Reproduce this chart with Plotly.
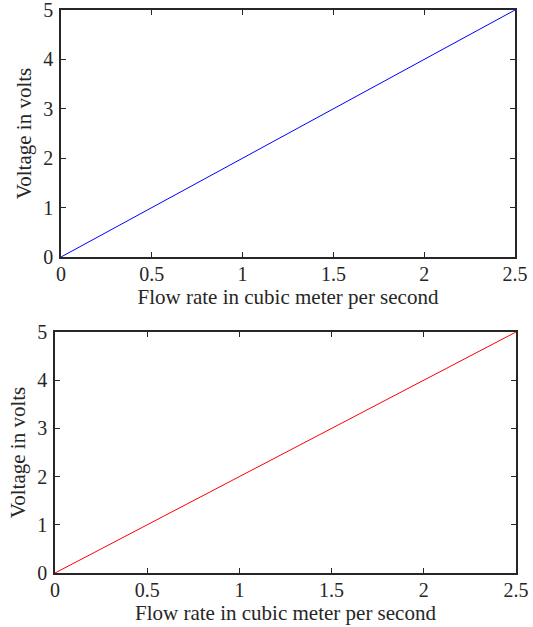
import plotly.graph_objects as go

flow_rate = [0, 0.25, 0.5, 0.75, 1.0, 1.25, 1.5, 1.75, 2.0, 2.25, 2.5]
voltage_top = [0, 0.5, 1.0, 1.5, 2.0, 2.5, 3.0, 3.5, 4.0, 4.5, 5.0]
voltage_bottom = [0, 0.5, 1.0, 1.5, 2.0, 2.5, 3.0, 3.5, 4.0, 4.5, 5.0]
x_ticks = [0, 0.5, 1, 1.5, 2, 2.5]
x_ticklabels = ["0", "0.5", "1", "1.5", "2", "2.5"]
y_ticks = [0, 1, 2, 3, 4, 5]
x_title = "Flow rate in cubic meter per second"
y_title = "Voltage in volts"

W, H = 533, 627
FONT = "Liberation Serif, Times New Roman, serif"

def px_x(a, b):
    return [a / W, b / W]

def px_y(top, bottom):
    return [1 - bottom / H, 1 - top / H]

fig = go.Figure()
fig.add_trace(go.Scatter(x=flow_rate, y=voltage_top, mode="lines",
                         line=dict(color="#0000ff", width=1), xaxis="x", yaxis="y"))
fig.add_trace(go.Scatter(x=flow_rate, y=voltage_bottom, mode="lines",
                         line=dict(color="#ff0000", width=1), xaxis="x2", yaxis="y2"))

def xax(domain, anchor):
    return dict(domain=domain, anchor=anchor, range=[0, 2.5], tickvals=x_ticks,
                ticktext=x_ticklabels, ticks="inside", ticklen=5, tickcolor="#262626",
                showline=True, linecolor="#262626", linewidth=1.5, mirror="ticks",
                showgrid=False, zeroline=False, automargin=False, ticklabeloverflow="allow",
                tickfont=dict(family=FONT, size=20, color="#262626"),
                title=dict(text=x_title, font=dict(family=FONT, size=21, color="#262626"), standoff=2),
                ticklabelstandoff=-2)

def yax(domain, anchor):
    return dict(domain=domain, anchor=anchor, range=[0, 5], tickvals=y_ticks,
                ticks="inside", ticklen=5, tickcolor="#262626",
                showline=True, linecolor="#262626", linewidth=1.5, mirror="ticks",
                showgrid=False, zeroline=False, automargin=False, ticklabeloverflow="allow",
                tickfont=dict(family=FONT, size=20, color="#262626"),
                title=dict(text=y_title, font=dict(family=FONT, size=21, color="#262626"), standoff=6),
                ticklabelstandoff=2)

fig.update_layout(
    width=W, height=H,
    margin=dict(l=0, r=0, t=0, b=0),
    paper_bgcolor="white", plot_bgcolor="white",
    showlegend=False,
    xaxis=xax(px_x(61, 515), "y"),
    yaxis=yax(px_y(10, 257), "x"),
    xaxis2=xax(px_x(55, 516), "y2"),
    yaxis2=yax(px_y(332, 573), "x2"),
)
fig.write_html("out.html", config={"displayModeBar": False},
               post_script="document.body.style.margin='0px';document.body.style.overflow='hidden';")
